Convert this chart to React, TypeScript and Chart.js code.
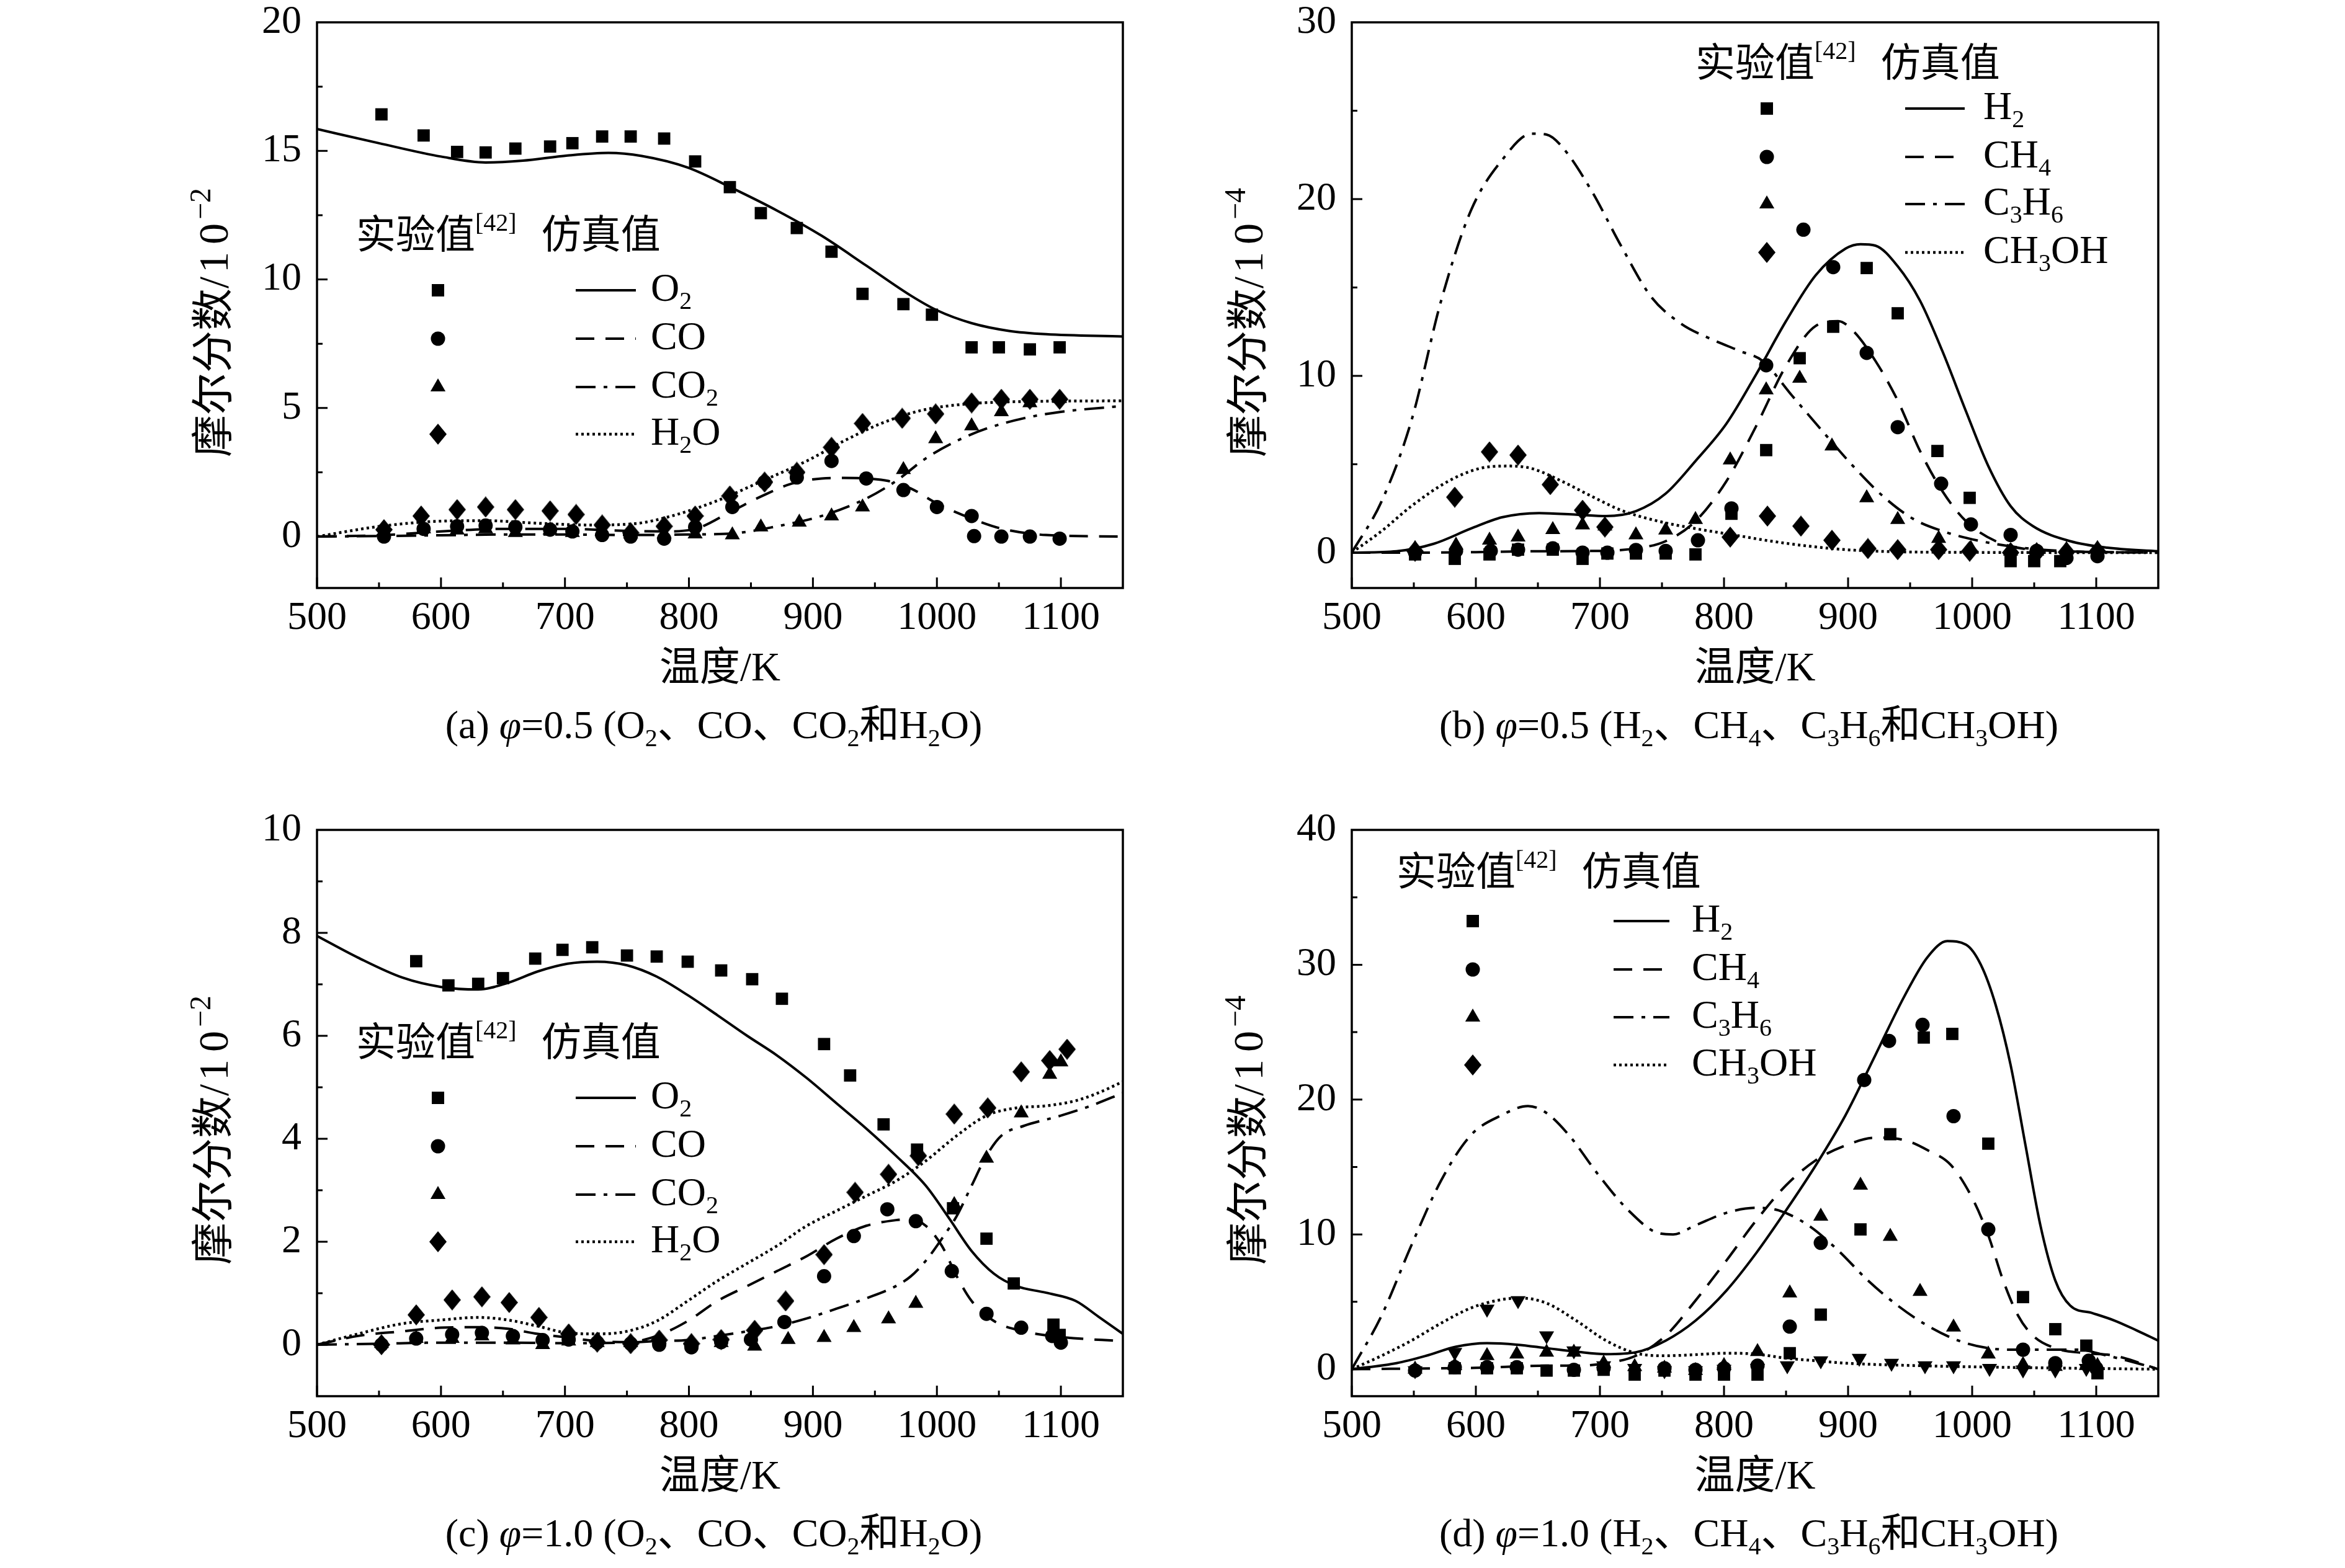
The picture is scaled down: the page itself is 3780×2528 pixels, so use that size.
import React, { useEffect, useRef } from 'react';
import { Chart, registerables } from 'chart.js';

Chart.register(...registerables);

const FONT = '"Liberation Serif", "Times New Roman", "Noto Sans CJK SC", serif';

// ---------- axis ticks ----------
const X_MAJOR = [500, 600, 700, 800, 900, 1000, 1100];
const X_MINOR = [550, 650, 750, 850, 950, 1050, 1150];
const A_Y_MAJOR = [0, 5, 10, 15, 20];
const A_Y_MINOR = [2.5, 7.5, 12.5, 17.5];
const B_Y_MAJOR = [0, 10, 20, 30];
const B_Y_MINOR = [5, 15, 25];
const C_Y_MAJOR = [0, 2, 4, 6, 8, 10];
const C_Y_MINOR = [1, 3, 5, 7, 9];
const D_Y_MAJOR = [0, 10, 20, 30, 40];
const D_Y_MINOR = [5, 15, 25, 35];

// ---------- panel (a) phi=0.5, O2 / CO / CO2 / H2O (1e-2) ----------
const A_O2_SIM_T = [500, 550, 600, 636, 666, 702, 735, 762, 799, 835, 871, 907, 943, 979, 1000, 1028, 1058, 1088, 1150];
const A_O2_SIM_Y = [15.85, 15.3, 14.78, 14.55, 14.62, 14.82, 14.92, 14.8, 14.35, 13.55, 12.68, 11.7, 10.54, 9.37, 8.8, 8.3, 8.0, 7.87, 7.78];
const A_CO_SIM_T = [500, 550, 600, 650, 700, 750, 780, 805, 835, 859, 883, 907, 925, 943, 961, 979, 1000, 1028, 1052, 1088, 1150];
const A_CO_SIM_Y = [0, 0.05, 0.2, 0.3, 0.3, 0.22, 0.2, 0.3, 1.0, 1.58, 2.06, 2.26, 2.28, 2.26, 2.16, 1.87, 1.29, 0.7, 0.31, 0.06, 0];
const A_CO2_SIM_T = [500, 550, 600, 650, 700, 750, 800, 835, 871, 907, 943, 967, 991, 1016, 1040, 1070, 1100, 1150];
const A_CO2_SIM_Y = [0, 0.02, 0.05, 0.08, 0.08, 0.06, 0.08, 0.12, 0.4, 0.8, 1.48, 2.16, 3.04, 3.72, 4.2, 4.6, 4.85, 5.08];
const A_H2O_SIM_T = [500, 551, 600, 636, 678, 720, 756, 786, 822, 859, 895, 925, 955, 986, 1016, 1058, 1150];
const A_H2O_SIM_Y = [0, 0.4, 0.6, 0.62, 0.52, 0.45, 0.5, 0.8, 1.38, 2.16, 2.94, 3.72, 4.4, 4.89, 5.12, 5.24, 5.28];

const A_O2_EXP_T = [552, 586, 613, 636, 660, 688, 706, 730, 753, 780, 805, 833, 858, 887, 915, 940, 973, 996, 1028, 1050, 1075, 1099];
const A_O2_EXP_Y = [16.42, 15.6, 14.96, 14.94, 15.09, 15.17, 15.3, 15.56, 15.56, 15.48, 14.59, 13.59, 12.58, 12.0, 11.08, 9.44, 9.04, 8.63, 7.36, 7.36, 7.28, 7.36];
const A_CO_EXP_T = [554, 586, 613, 636, 660, 688, 706, 730, 753, 780, 805, 835, 861, 887, 915, 943, 973, 1000, 1028, 1030, 1052, 1075, 1099];
const A_CO_EXP_Y = [0, 0.3, 0.4, 0.43, 0.37, 0.27, 0.2, 0.06, 0, -0.08, 0.37, 1.15, 2.12, 2.3, 2.94, 2.26, 1.81, 1.15, 0.8, 0.02, 0, 0, -0.08];
const A_CO2_EXP_T = [554, 586, 613, 636, 660, 688, 706, 730, 753, 780, 805, 835, 858, 889, 915, 940, 973, 999, 1028, 1052, 1075, 1099];
const A_CO2_EXP_Y = [0.2, 0.3, 0.25, 0.3, 0.15, 0.25, 0.15, 0.2, 0.1, 0.1, 0.1, 0.06, 0.37, 0.56, 0.8, 1.15, 2.6, 3.8, 4.3, 4.85, 5.2, 5.37];
const A_H2O_EXP_T = [554, 584, 613, 636, 660, 688, 709, 730, 753, 780, 805, 833, 861, 887, 915, 940, 972, 999, 1028, 1052, 1075, 1099];
const A_H2O_EXP_Y = [0.27, 0.8, 1.05, 1.15, 1.05, 1.0, 0.86, 0.45, 0.15, 0.4, 0.8, 1.58, 2.12, 2.5, 3.47, 4.4, 4.6, 4.77, 5.2, 5.34, 5.34, 5.34];

// ---------- panel (b) phi=0.5, H2 / CH4 / C3H6 / CH3OH (1e-4) ----------
const B_H2_SIM_T = [500, 536, 566, 596, 621, 651, 681, 705, 729, 753, 777, 802, 826, 850, 874, 898, 910, 922, 940, 958, 976, 995, 1013, 1031, 1049, 1079, 1109, 1150];
const B_H2_SIM_Y = [0, 0.08, 0.5, 1.36, 2.0, 2.24, 2.15, 2.07, 2.35, 3.34, 5.18, 7.3, 10.1, 13.1, 15.7, 17.2, 17.45, 17.37, 16.2, 14.25, 11.4, 8.0, 4.9, 2.63, 1.5, 0.65, 0.28, 0.08];
const B_CH4_SIM_T = [500, 550, 600, 650, 700, 730, 753, 777, 802, 826, 850, 874, 892, 904, 922, 940, 958, 976, 995, 1019, 1049, 1150];
const B_CH4_SIM_Y = [0, 0, 0.03, 0.08, 0.1, 0.25, 0.65, 1.78, 4.05, 7.17, 10.57, 12.83, 13.1, 12.55, 10.85, 8.6, 5.75, 3.48, 1.78, 0.65, 0.17, 0];
const B_C3H6_SIM_T = [500, 524, 548, 572, 596, 621, 645, 657, 669, 693, 717, 741, 765, 789, 813, 831, 855, 879, 904, 928, 952, 976, 1007, 1037, 1079, 1150];
const B_C3H6_SIM_Y = [0, 2.9, 7.45, 14.25, 19.35, 22.2, 23.7, 23.65, 23.0, 20.5, 17.36, 14.5, 12.97, 12.1, 11.4, 10.85, 8.87, 6.9, 4.9, 3.2, 1.93, 1.22, 0.65, 0.3, 0.08, 0];
const B_CH3OH_SIM_T = [500, 524, 548, 578, 603, 627, 645, 669, 693, 717, 747, 777, 808, 838, 868, 898, 958, 1150];
const B_CH3OH_SIM_Y = [0, 1.22, 2.63, 4.05, 4.76, 4.9, 4.76, 4.05, 3.2, 2.4, 1.78, 1.36, 1.0, 0.65, 0.37, 0.17, 0.03, 0];

const B_H2_EXP_T = [551, 583, 611, 634, 662, 686, 706, 729, 753, 777, 806, 834, 861, 888, 915, 940, 972, 998, 1031, 1050, 1071];
const B_H2_EXP_Y = [-0.1, -0.35, -0.1, 0.17, 0.17, -0.35, -0.05, -0.05, -0.05, -0.1, 2.2, 5.8, 11.0, 12.78, 16.1, 13.54, 5.75, 3.1, -0.48, -0.48, -0.48];
const B_CH4_EXP_T = [551, 584, 612, 634, 662, 686, 706, 729, 753, 779, 806, 834, 864, 888, 915, 940, 975, 999, 1031, 1052, 1076, 1101];
const B_CH4_EXP_Y = [0, 0.1, 0.1, 0.17, 0.25, 0, 0, 0.15, 0.1, 0.7, 2.5, 10.6, 18.27, 16.15, 11.3, 7.1, 3.9, 1.6, 1.0, 0.1, -0.3, -0.2];
const B_C3H6_EXP_T = [551, 584, 611, 634, 662, 686, 704, 729, 753, 777, 805, 834, 861, 887, 915, 940, 973, 999, 1031, 1052, 1076, 1101];
const B_C3H6_EXP_Y = [0.23, 0.42, 0.7, 0.88, 1.3, 1.56, 1.5, 1.0, 1.27, 1.87, 5.24, 9.2, 9.86, 6.03, 3.1, 1.87, 0.8, 0.23, 0.08, 0.08, 0.17, 0.23];
const B_CH3OH_EXP_T = [551, 583, 611, 634, 660, 686, 704, 805, 835, 862, 887, 916, 940, 973, 998, 1031, 1052, 1076, 1101];
const B_CH3OH_EXP_Y = [0.08, 3.14, 5.7, 5.52, 3.85, 2.4, 1.45, 0.88, 2.07, 1.5, 0.7, 0.23, 0.17, 0.17, 0.08, 0, 0, 0.03, 0.08];

// ---------- panel (c) phi=1.0, O2 / CO / CO2 / H2O (1e-2) ----------
const C_O2_SIM_T = [500, 533, 569, 600, 630, 654, 678, 702, 726, 750, 774, 799, 823, 847, 871, 895, 919, 943, 967, 991, 1010, 1028, 1046, 1064, 1088, 1112, 1130, 1150];
const C_O2_SIM_Y = [7.94, 7.52, 7.13, 6.95, 6.9, 7.03, 7.25, 7.4, 7.44, 7.37, 7.15, 6.79, 6.4, 6.0, 5.62, 5.18, 4.69, 4.2, 3.67, 3.09, 2.45, 1.82, 1.38, 1.14, 1.01, 0.85, 0.55, 0.21];
const C_CO_SIM_T = [500, 533, 569, 600, 630, 654, 678, 702, 726, 750, 774, 799, 823, 847, 871, 895, 919, 943, 967, 979, 991, 1004, 1016, 1028, 1046, 1070, 1100, 1150];
const C_CO_SIM_Y = [0, 0.17, 0.26, 0.33, 0.34, 0.31, 0.21, 0.14, 0.07, 0.05, 0.17, 0.46, 0.85, 1.14, 1.43, 1.72, 2.06, 2.31, 2.42, 2.44, 2.31, 1.92, 1.33, 0.85, 0.46, 0.26, 0.15, 0.07];
const C_CO2_SIM_T = [500, 550, 600, 650, 700, 750, 774, 799, 823, 847, 871, 895, 919, 943, 967, 979, 991, 1004, 1016, 1028, 1040, 1052, 1070, 1100, 1124, 1150];
const C_CO2_SIM_Y = [0, 0.02, 0.04, 0.04, 0.03, 0.04, 0.07, 0.09, 0.17, 0.26, 0.36, 0.51, 0.7, 0.9, 1.14, 1.33, 1.63, 2.06, 2.5, 3.09, 3.67, 4.06, 4.25, 4.45, 4.64, 4.89];
const C_H2O_SIM_T = [500, 533, 569, 600, 630, 654, 678, 702, 726, 750, 774, 799, 823, 847, 871, 895, 919, 943, 967, 991, 1016, 1040, 1064, 1088, 1112, 1130, 1150];
const C_H2O_SIM_Y = [0, 0.21, 0.41, 0.48, 0.53, 0.48, 0.36, 0.23, 0.21, 0.26, 0.46, 0.85, 1.24, 1.58, 1.92, 2.31, 2.6, 2.89, 3.18, 3.57, 4.06, 4.45, 4.6, 4.64, 4.74, 4.89, 5.11];

const C_O2_EXP_T = [580, 606, 630, 650, 676, 698, 722, 750, 774, 799, 826, 851, 875, 909, 930, 957, 984, 1013, 1040, 1062, 1094, 1099];
const C_O2_EXP_Y = [7.45, 6.98, 7.01, 7.12, 7.5, 7.67, 7.72, 7.56, 7.54, 7.44, 7.27, 7.1, 6.72, 5.84, 5.23, 4.28, 3.79, 2.65, 2.06, 1.19, 0.39, 0.19];
const C_CO_EXP_T = [552, 580, 609, 633, 658, 682, 703, 726, 753, 776, 802, 826, 850, 877, 909, 933, 960, 983, 1012, 1040, 1068, 1093, 1100];
const C_CO_EXP_Y = [0, 0.12, 0.2, 0.23, 0.17, 0.09, 0.1, 0.04, 0.02, 0, -0.05, 0.05, 0.1, 0.44, 1.33, 2.11, 2.63, 2.4, 1.43, 0.6, 0.33, 0.17, 0.04];
const C_CO2_EXP_T = [552, 580, 609, 633, 658, 682, 703, 726, 753, 776, 802, 826, 853, 880, 909, 933, 961, 983, 1014, 1040, 1068, 1091, 1100];
const C_CO2_EXP_Y = [0.02, 0.12, 0.12, 0.17, 0.09, 0, 0.07, 0.04, 0.04, 0.1, 0.05, 0.04, -0.03, 0.1, 0.14, 0.33, 0.5, 0.8, 2.72, 3.62, 4.5, 5.25, 5.49];
const C_H2O_EXP_T = [552, 580, 609, 633, 655, 679, 703, 726, 753, 776, 802, 826, 853, 878, 909, 934, 961, 985, 1014, 1041, 1068, 1091, 1105];
const C_H2O_EXP_Y = [0, 0.58, 0.87, 0.93, 0.82, 0.53, 0.21, 0.05, 0.02, 0.09, 0.02, 0.1, 0.28, 0.85, 1.75, 2.96, 3.31, 3.67, 4.48, 4.6, 5.3, 5.52, 5.74];

// ---------- panel (d) phi=1.0, H2 / CH4 / C3H6 / CH3OH (1e-4) ----------
const D_H2_SIM_T = [500, 536, 560, 584, 609, 633, 657, 681, 705, 729, 753, 777, 802, 826, 850, 874, 898, 922, 946, 964, 980, 995, 1007, 1019, 1031, 1043, 1055, 1067, 1079, 1097, 1115, 1133, 1150];
const D_H2_SIM_Y = [0, 0.45, 1.0, 1.67, 1.93, 1.82, 1.56, 1.3, 1.12, 1.26, 2.12, 3.6, 5.84, 8.62, 11.78, 15.13, 18.85, 23.3, 27.77, 30.56, 31.75, 31.49, 30.0, 27.0, 22.56, 16.6, 10.67, 6.58, 4.72, 4.16, 3.6, 2.86, 2.12];
const D_CH4_SIM_T = [500, 550, 600, 657, 681, 705, 729, 753, 777, 802, 826, 850, 874, 898, 922, 946, 964, 983, 1001, 1013, 1025, 1037, 1049, 1067, 1091, 1115, 1150];
const D_CH4_SIM_Y = [0, 0.05, 0.1, 0.26, 0.26, 0.45, 1.0, 2.49, 5.09, 8.07, 11.04, 13.64, 15.5, 16.6, 17.17, 16.98, 16.25, 15.13, 12.53, 9.93, 6.58, 3.98, 2.49, 1.56, 1.19, 1.0, 0];
const D_C3H6_SIM_T = [500, 524, 548, 572, 596, 621, 642, 657, 675, 699, 723, 747, 759, 777, 802, 826, 844, 868, 892, 916, 940, 964, 989, 1013, 1037, 1061, 1085, 1109, 1133, 1150];
const D_C3H6_SIM_Y = [0, 3.98, 9.18, 14.0, 17.36, 18.85, 19.52, 19.0, 17.36, 14.39, 11.78, 10.1, 10.0, 10.67, 11.6, 11.97, 11.78, 10.67, 8.81, 6.58, 4.72, 3.23, 2.12, 1.56, 1.45, 1.45, 1.45, 1.0, 0.45, 0];
const D_CH3OH_SIM_T = [500, 524, 548, 572, 596, 621, 636, 657, 681, 705, 729, 753, 777, 802, 826, 850, 874, 898, 958, 1019, 1150];
const D_CH3OH_SIM_Y = [0, 1.0, 2.12, 3.42, 4.54, 5.17, 5.28, 4.9, 3.6, 2.12, 1.19, 1.0, 1.08, 1.19, 1.12, 0.82, 0.63, 0.45, 0.26, 0.15, 0];

const D_H2_EXP_T = [583, 609, 633, 657, 679, 703, 728, 752, 777, 800, 827, 853, 878, 910, 934, 961, 984, 1013, 1041, 1067, 1092, 1101];
const D_H2_EXP_Y = [0.07, 0.07, 0.07, -0.1, -0.1, -0.04, -0.4, -0.1, -0.4, -0.4, -0.4, 1.19, 4.05, 10.37, 17.43, 24.6, 24.87, 16.73, 5.35, 2.97, 1.75, -0.3];
const D_CH4_EXP_T = [551, 583, 609, 633, 679, 703, 752, 777, 800, 827, 853, 878, 913, 933, 960, 985, 1013, 1041, 1067, 1094, 1100];
const D_CH4_EXP_Y = [-0.1, 0.15, 0.15, 0.15, -0.04, 0.07, 0.07, -0.04, 0.07, 0.26, 3.16, 9.37, 21.45, 24.35, 25.54, 18.77, 10.37, 1.45, 0.45, 0.63, 0.07];
const D_C3H6_EXP_T = [551, 583, 609, 633, 657, 679, 703, 728, 752, 777, 800, 827, 853, 878, 910, 934, 958, 985, 1013, 1041, 1067, 1092, 1101];
const D_C3H6_EXP_Y = [0, 0.26, 1.0, 1.12, 1.26, 1.26, 0.45, 0.19, 0.07, -0.1, 0.26, 1.3, 5.65, 11.34, 13.64, 9.85, 5.76, 3.12, 1.12, 0.33, 0.2, 0.26, 0.26];
const D_CH3OH_EXP_T = [551, 583, 609, 634, 657, 679, 703, 728, 752, 777, 800, 827, 851, 878, 909, 935, 962, 985, 1014, 1041, 1067, 1092];
const D_CH3OH_EXP_Y = [-0.1, 1.26, 4.46, 5.1, 2.49, 1.37, 0.26, 0.07, -0.1, -0.1, 0, 0.07, 0.26, 0.63, 0.82, 0.45, 0.26, 0.26, 0.07, -0.04, -0.04, 0.07];

// ---------- text helpers ----------
type Seg = { t?: string; s?: 'sub' | 'sup'; i?: boolean; g?: number; z?: number };

function fontFor(seg: Seg, size: number) {
  const sz = Math.round(seg.s ? size * (seg.z || 0.62) : size);
  return `${seg.i ? 'italic ' : ''}${sz}px ${FONT}`;
}

function drawRich(ctx: CanvasRenderingContext2D, segs: Seg[], x: number, y: number, size: number, align: 'left' | 'center' | 'right') {
  const widths = segs.map((seg) => {
    if (seg.g) return seg.g;
    ctx.font = fontFor(seg, size);
    return ctx.measureText(seg.t || '').width;
  });
  const total = widths.reduce((a, b) => a + b, 0);
  let cx = align === 'center' ? x - total / 2 : align === 'right' ? x - total : x;
  ctx.textAlign = 'left';
  ctx.textBaseline = 'middle';
  segs.forEach((seg, i) => {
    if (!seg.g && seg.t) {
      ctx.font = fontFor(seg, size);
      const dy = seg.s === 'sub' ? size * 0.3 : seg.s === 'sup' ? -size * 0.33 : 0;
      ctx.fillText(seg.t, cx, y + dy);
    }
    cx += widths[i];
  });
}

type Marker = 'square' | 'circle' | 'triangle' | 'diamond' | 'down';

function makeDiamond(): HTMLCanvasElement {
  const c = document.createElement('canvas');
  c.width = 28;
  c.height = 34;
  const g = c.getContext('2d')!;
  g.fillStyle = '#000';
  g.beginPath();
  g.moveTo(14, 0);
  g.lineTo(28, 17);
  g.lineTo(14, 34);
  g.lineTo(0, 17);
  g.closePath();
  g.fill();
  return c;
}

function drawMarker(ctx: CanvasRenderingContext2D, m: Marker, x: number, y: number) {
  ctx.fillStyle = '#000';
  ctx.beginPath();
  if (m === 'square') {
    ctx.rect(x - 10, y - 10, 20, 20);
  } else if (m === 'circle') {
    ctx.arc(x, y, 11.5, 0, Math.PI * 2);
  } else if (m === 'triangle' || m === 'down') {
    const r = 14;
    const sgn = m === 'down' ? -1 : 1;
    for (let k = 0; k < 3; k++) {
      const a = (k * 2 * Math.PI) / 3;
      const px = x + Math.sin(a) * r;
      const py = y - sgn * Math.cos(a) * r;
      if (k === 0) ctx.moveTo(px, py);
      else ctx.lineTo(px, py);
    }
    ctx.closePath();
  } else {
    ctx.moveTo(x, y - 17);
    ctx.lineTo(x + 14, y);
    ctx.lineTo(x, y + 17);
    ctx.lineTo(x - 14, y);
    ctx.closePath();
  }
  ctx.fill();
}

type LineKind = 'solid' | 'dash' | 'dashdot' | 'dot';
const DASH: Record<LineKind, number[]> = {
  solid: [],
  dash: [30, 18],
  dashdot: [32, 13, 6, 13],
  dot: [4, 5],
};
const LW: Record<LineKind, number> = { solid: 4, dash: 4, dashdot: 4, dot: 4.5 };

interface Series {
  label: Seg[];
  simT: number[];
  simY: number[];
  expT: number[];
  expY: number[];
  marker: Marker;
  legendMarker: Marker;
  line: LineKind;
}

interface LegendLayout {
  hx: number;
  hy: number;
  sx: number;
  rows: number[];
  lx0: number;
  lx1: number;
  tx: number;
}

interface PanelCfg {
  id: string;
  left: number;
  top: number;
  pad: { left: number; top: number; right: number; bottom: number };
  yMin: number;
  yMax: number;
  yMajor: number[];
  yMinor: number[];
  yExp: string;
  caption: Seg[];
  legend: LegendLayout;
  series: Series[];
}

const LEGEND_HEADER: Seg[] = [{ t: '实验值' }, { t: '[42]', s: 'sup' }, { g: 40 }, { t: '仿真值' }];

const LBL_O2: Seg[] = [{ t: 'O' }, { t: '2', s: 'sub' }];
const LBL_CO: Seg[] = [{ t: 'CO' }];
const LBL_CO2: Seg[] = [{ t: 'CO' }, { t: '2', s: 'sub' }];
const LBL_H2O: Seg[] = [{ t: 'H' }, { t: '2', s: 'sub' }, { t: 'O' }];
const LBL_H2: Seg[] = [{ t: 'H' }, { t: '2', s: 'sub' }];
const LBL_CH4: Seg[] = [{ t: 'CH' }, { t: '4', s: 'sub' }];
const LBL_C3H6: Seg[] = [{ t: 'C' }, { t: '3', s: 'sub' }, { t: 'H' }, { t: '6', s: 'sub' }];
const LBL_CH3OH: Seg[] = [{ t: 'CH' }, { t: '3', s: 'sub' }, { t: 'OH' }];

function capOx(letter: string, phi: string): Seg[] {
  return [
    { t: `(${letter}) ` },
    { t: 'φ', i: true },
    { t: `=${phi} (O` },
    { t: '2', s: 'sub' },
    { t: '、CO、CO' },
    { t: '2', s: 'sub' },
    { t: '和H' },
    { t: '2', s: 'sub' },
    { t: 'O)' },
  ];
}
function capHc(letter: string, phi: string): Seg[] {
  return [
    { t: `(${letter}) ` },
    { t: 'φ', i: true },
    { t: `=${phi} (H` },
    { t: '2', s: 'sub' },
    { t: '、CH' },
    { t: '4', s: 'sub' },
    { t: '、C' },
    { t: '3', s: 'sub' },
    { t: 'H' },
    { t: '6', s: 'sub' },
    { t: '和CH' },
    { t: '3', s: 'sub' },
    { t: 'OH)' },
  ];
}

function yTitle(exp: string): Seg[] {
  return [
    { t: '摩尔分数' },
    { t: '/' },
    { g: 6 },
    { t: '1' },
    { g: 12 },
    { t: '0' },
    { g: 6 },
    { t: exp, s: 'sup', z: 0.7 },
  ];
}

const LEG_OX: LegendLayout = { hx: 63, hy: 347, sx: 195, rows: [432, 510, 588, 664], lx0: 417, lx1: 514, tx: 538 };

const PANELS: PanelCfg[] = [
  {
    id: 'a', left: 0, top: 0,
    pad: { left: 511, top: 36, right: 80, bottom: 316 },
    yMin: -2, yMax: 20, yMajor: A_Y_MAJOR, yMinor: A_Y_MINOR, yExp: '−2',
    caption: capOx('a', '0.5'),
    legend: LEG_OX,
    series: [
      { label: LBL_O2, simT: A_O2_SIM_T, simY: A_O2_SIM_Y, expT: A_O2_EXP_T, expY: A_O2_EXP_Y, marker: 'square', legendMarker: 'square', line: 'solid' },
      { label: LBL_CO, simT: A_CO_SIM_T, simY: A_CO_SIM_Y, expT: A_CO_EXP_T, expY: A_CO_EXP_Y, marker: 'circle', legendMarker: 'circle', line: 'dash' },
      { label: LBL_CO2, simT: A_CO2_SIM_T, simY: A_CO2_SIM_Y, expT: A_CO2_EXP_T, expY: A_CO2_EXP_Y, marker: 'triangle', legendMarker: 'triangle', line: 'dashdot' },
      { label: LBL_H2O, simT: A_H2O_SIM_T, simY: A_H2O_SIM_Y, expT: A_H2O_EXP_T, expY: A_H2O_EXP_Y, marker: 'diamond', legendMarker: 'diamond', line: 'dot' },
    ],
  },
  {
    id: 'b', left: 1890, top: 0,
    pad: { left: 289, top: 36, right: 301, bottom: 316 },
    yMin: -2, yMax: 30, yMajor: B_Y_MAJOR, yMinor: B_Y_MINOR, yExp: '−4',
    caption: capHc('b', '0.5'),
    legend: { hx: 554, hy: 70, sx: 669, rows: [139, 217, 293, 371], lx0: 892, lx1: 988, tx: 1018 },
    series: [
      { label: LBL_H2, simT: B_H2_SIM_T, simY: B_H2_SIM_Y, expT: B_H2_EXP_T, expY: B_H2_EXP_Y, marker: 'square', legendMarker: 'square', line: 'solid' },
      { label: LBL_CH4, simT: B_CH4_SIM_T, simY: B_CH4_SIM_Y, expT: B_CH4_EXP_T, expY: B_CH4_EXP_Y, marker: 'circle', legendMarker: 'circle', line: 'dash' },
      { label: LBL_C3H6, simT: B_C3H6_SIM_T, simY: B_C3H6_SIM_Y, expT: B_C3H6_EXP_T, expY: B_C3H6_EXP_Y, marker: 'triangle', legendMarker: 'triangle', line: 'dashdot' },
      { label: LBL_CH3OH, simT: B_CH3OH_SIM_T, simY: B_CH3OH_SIM_Y, expT: B_CH3OH_EXP_T, expY: B_CH3OH_EXP_Y, marker: 'diamond', legendMarker: 'diamond', line: 'dot' },
    ],
  },
  {
    id: 'c', left: 0, top: 1264,
    pad: { left: 511, top: 74, right: 80, bottom: 277 },
    yMin: -1, yMax: 10, yMajor: C_Y_MAJOR, yMinor: C_Y_MINOR, yExp: '−2',
    caption: capOx('c', '1.0'),
    legend: LEG_OX,
    series: [
      { label: LBL_O2, simT: C_O2_SIM_T, simY: C_O2_SIM_Y, expT: C_O2_EXP_T, expY: C_O2_EXP_Y, marker: 'square', legendMarker: 'square', line: 'solid' },
      { label: LBL_CO, simT: C_CO_SIM_T, simY: C_CO_SIM_Y, expT: C_CO_EXP_T, expY: C_CO_EXP_Y, marker: 'circle', legendMarker: 'circle', line: 'dash' },
      { label: LBL_CO2, simT: C_CO2_SIM_T, simY: C_CO2_SIM_Y, expT: C_CO2_EXP_T, expY: C_CO2_EXP_Y, marker: 'triangle', legendMarker: 'triangle', line: 'dashdot' },
      { label: LBL_H2O, simT: C_H2O_SIM_T, simY: C_H2O_SIM_Y, expT: C_H2O_EXP_T, expY: C_H2O_EXP_Y, marker: 'diamond', legendMarker: 'diamond', line: 'dot' },
    ],
  },
  {
    id: 'd', left: 1890, top: 1264,
    pad: { left: 289, top: 74, right: 301, bottom: 277 },
    yMin: -2, yMax: 40, yMajor: D_Y_MAJOR, yMinor: D_Y_MINOR, yExp: '−4',
    caption: capHc('d', '1.0'),
    legend: { hx: 72, hy: 72, sx: 195, rows: [147, 225, 302, 379], lx0: 422, lx1: 512, tx: 548 },
    series: [
      { label: LBL_H2, simT: D_H2_SIM_T, simY: D_H2_SIM_Y, expT: D_H2_EXP_T, expY: D_H2_EXP_Y, marker: 'square', legendMarker: 'square', line: 'solid' },
      { label: LBL_CH4, simT: D_CH4_SIM_T, simY: D_CH4_SIM_Y, expT: D_CH4_EXP_T, expY: D_CH4_EXP_Y, marker: 'circle', legendMarker: 'circle', line: 'dash' },
      { label: LBL_C3H6, simT: D_C3H6_SIM_T, simY: D_C3H6_SIM_Y, expT: D_C3H6_EXP_T, expY: D_C3H6_EXP_Y, marker: 'triangle', legendMarker: 'triangle', line: 'dashdot' },
      { label: LBL_CH3OH, simT: D_CH3OH_SIM_T, simY: D_CH3OH_SIM_Y, expT: D_CH3OH_EXP_T, expY: D_CH3OH_EXP_Y, marker: 'down', legendMarker: 'diamond', line: 'dot' },
    ],
  },
];

function makeFramePlugin(cfg: PanelCfg) {
  return {
    id: 'frame_' + cfg.id,
    afterDraw(chart: any) {
      const ctx: CanvasRenderingContext2D = chart.ctx;
      const { left, right, top, bottom } = chart.chartArea;
      const xs = chart.scales.x;
      const ys = chart.scales.y;
      ctx.save();
      ctx.setLineDash([]);
      ctx.strokeStyle = '#000';
      ctx.fillStyle = '#000';
      // frame
      ctx.lineWidth = 3.5;
      ctx.strokeRect(left, top, right - left, bottom - top);
      // ticks (inward)
      ctx.lineWidth = 3;
      ctx.beginPath();
      X_MAJOR.forEach((v) => {
        const p = xs.getPixelForValue(v);
        ctx.moveTo(p, bottom);
        ctx.lineTo(p, bottom - 17);
      });
      X_MINOR.forEach((v) => {
        if (v >= xs.max) return;
        const p = xs.getPixelForValue(v);
        ctx.moveTo(p, bottom);
        ctx.lineTo(p, bottom - 9);
      });
      cfg.yMajor.forEach((v) => {
        if (v <= ys.min || v >= ys.max) return;
        const p = ys.getPixelForValue(v);
        ctx.moveTo(left, p);
        ctx.lineTo(left + 17, p);
      });
      cfg.yMinor.forEach((v) => {
        if (v <= ys.min || v >= ys.max) return;
        const p = ys.getPixelForValue(v);
        ctx.moveTo(left, p);
        ctx.lineTo(left + 9, p);
      });
      ctx.stroke();
      // tick labels
      ctx.font = `64px ${FONT}`;
      ctx.textBaseline = 'middle';
      ctx.textAlign = 'center';
      X_MAJOR.forEach((v) => ctx.fillText(String(v), xs.getPixelForValue(v), bottom + 49));
      ctx.textAlign = 'right';
      cfg.yMajor.forEach((v) => ctx.fillText(String(v), left - 25, ys.getPixelForValue(v)));
      // axis titles
      drawRich(ctx, [{ t: '温度/K' }], (left + right) / 2, bottom + 132, 65, 'center');
      drawRich(ctx, cfg.caption, (left + right) / 2 - 10, bottom + 225, 64, 'center');
      ctx.save();
      ctx.translate(left - 162, top + 484);
      ctx.rotate(-Math.PI / 2);
      drawRich(ctx, yTitle(cfg.yExp), 0, 0, 68, 'center');
      ctx.restore();
      // legend
      const L = cfg.legend;
      drawRich(ctx, LEGEND_HEADER, left + L.hx, top + L.hy, 64, 'left');
      cfg.series.forEach((s, i) => {
        const y = top + L.rows[i];
        drawMarker(ctx, s.legendMarker, left + L.sx, y);
        ctx.save();
        ctx.lineWidth = LW[s.line];
        ctx.setLineDash(DASH[s.line]);
        ctx.beginPath();
        ctx.moveTo(left + L.lx0, y);
        ctx.lineTo(left + L.lx1, y);
        ctx.stroke();
        ctx.restore();
        ctx.fillStyle = '#000';
        drawRich(ctx, s.label, left + L.tx, y, 64, 'left');
      });
      ctx.restore();
    },
  };
}

function Panel({ cfg }: { cfg: PanelCfg }) {
  const ref = useRef<HTMLCanvasElement>(null);
  useEffect(() => {
    const canvas = ref.current;
    if (!canvas) return;
    const diamond = makeDiamond();
    const datasets: any[] = [];
    cfg.series.forEach((s) => {
      let pointStyle: any = 'rect';
      let radius = 14;
      let rotation = 0;
      if (s.marker === 'circle') { pointStyle = 'circle'; radius = 11.5; }
      else if (s.marker === 'triangle') { pointStyle = 'triangle'; radius = 14; }
      else if (s.marker === 'down') { pointStyle = 'triangle'; radius = 14; rotation = 180; }
      else if (s.marker === 'diamond') { pointStyle = diamond; radius = 15; }
      datasets.push({
        data: s.expT.map((t, i) => ({ x: t, y: s.expY[i] })),
        showLine: false,
        pointStyle,
        rotation,
        pointRadius: radius,
        pointHoverRadius: radius,
        backgroundColor: '#000',
        borderColor: '#000',
        borderWidth: 0,
        order: 0,
      });
    });
    cfg.series.forEach((s) => {
      datasets.push({
        data: s.simT.map((t, i) => ({ x: t, y: s.simY[i] })),
        showLine: true,
        pointRadius: 0,
        pointHoverRadius: 0,
        borderColor: '#000',
        backgroundColor: '#000',
        borderWidth: LW[s.line],
        borderDash: DASH[s.line],
        borderCapStyle: 'butt',
        cubicInterpolationMode: 'monotone',
        fill: false,
        order: 1,
      });
    });
    const chart = new Chart(canvas, {
      type: 'scatter',
      data: { datasets },
      options: {
        animation: false,
        responsive: false,
        devicePixelRatio: 1,
        events: [],
        layout: { padding: cfg.pad },
        plugins: { legend: { display: false }, tooltip: { enabled: false }, title: { display: false } },
        scales: {
          x: { type: 'linear', min: 500, max: 1150, display: false },
          y: { type: 'linear', min: cfg.yMin, max: cfg.yMax, display: false },
        },
      },
      plugins: [makeFramePlugin(cfg)],
    } as any);
    return () => chart.destroy();
  }, [cfg]);
  return (
    <canvas
      ref={ref}
      width={1890}
      height={1264}
      style={{ position: 'absolute', left: cfg.left, top: cfg.top, width: 1890, height: 1264 }}
    />
  );
}

export default function App() {
  return (
    <div
      style={{
        position: 'absolute',
        left: 0,
        top: 0,
        width: 3780,
        height: 2528,
        background: '#fff',
        overflow: 'hidden',
      }}
    >
      {PANELS.map((p) => (
        <Panel key={p.id} cfg={p} />
      ))}
    </div>
  );
}
